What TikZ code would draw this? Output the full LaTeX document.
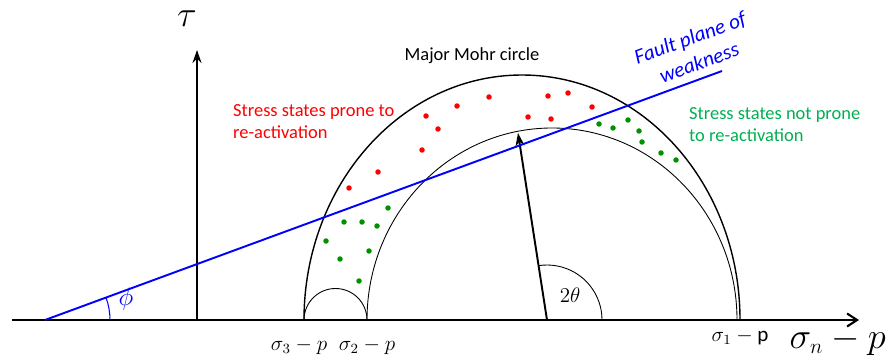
\documentclass[tikz,border=0pt]{standalone}
\usepackage{amsmath}
\usepackage{fontspec}
\setmainfont{Carlito}
\usepackage{tikz}
\usetikzlibrary{arrows.meta,positioning,calc}
\definecolor{faultblue}{RGB}{0,0,255}
\definecolor{pronered}{RGB}{255,0,0}
\definecolor{safegreen}{RGB}{0,176,80}
\definecolor{dotgreen}{RGB}{0,145,0}

\begin{document}
\begin{tikzpicture}[
  font=\fontsize{10.5}{12.5}\selectfont,
  axis/.style={line width=1.2pt},
  mohr/.style={line width=0.8pt},
  thinmohr/.style={line width=0.5pt},
  fault/.style={faultblue, line width=1.1pt},
  arrow/.style={-{Stealth[length=2.6mm,width=1.8mm]}, line width=1.1pt},
  note/.style={align=left, anchor=west}
]
\useasboundingbox (-3.94,-0.76) rectangle (13.94,6.4);

% axes
\coordinate (O) at (0,0);
\coordinate (xstart) at (-3.70,0);
\coordinate (xend) at (13.24,0);
\coordinate (ytop) at (0,5.4);
\draw[axis, -{Straight Barb[length=2mm,width=2.6mm]}] (xstart) -- (xend);
\draw[arrow, line width=1.2pt] (O) -- (ytop);
\node (tau) at (-0.2,6.02) {\huge$\tau$};
\node[anchor=base east, inner sep=0pt] (xlabel) at (13.78,-0.56) {\huge$\sigma_{\scriptscriptstyle n} - p$};

% principal stresses
\coordinate (s3) at (2.14,0);
\coordinate (s2) at (3.40,0);
\coordinate (s1) at (10.86,0);
\node[below=0.24cm of s3, xshift=-0.1cm] (s3lab) {\large$\sigma_3 - p$};
\node[below=0.24cm of s2] (s2lab) {\large$\sigma_2 - p$};
\node[below=0.06cm of s1] (s1lab) {\large$\sigma_1 - \mathrm{p}$};

% Mohr circles
\draw[mohr] (s1) arc[start angle=0, end angle=180, x radius=4.36, y radius=4.9];
\draw[thinmohr] (10.80,0) arc[start angle=0, end angle=180, x radius=3.70, y radius=3.84];
\draw[thinmohr] (s2) arc[start angle=0, end angle=180, radius=0.63];
\node (major) at (5.5,5.28) {Major Mohr circle};

% radius and 2theta
\coordinate (c2) at (7.0,0);
\coordinate (tip) at (6.42,3.74);
\draw[arrow] (c2) -- (tip);
\draw[thinmohr] ($(c2)+(1.1,0)$) arc[start angle=0, end angle=98.8, radius=1.1];
\node (twotheta) at (7.46,0.5) {\large$2\theta$};

% fault plane
\coordinate (f0) at (-3.04,0);
\coordinate (f1) at (10.5,4.98);
\draw[fault] (f0) -- (f1);
\draw[faultblue, line width=0.6pt] ($(f0)+(1.3,0)$) arc[start angle=0, end angle=20.1, radius=1.3];
\node[faultblue] (phi) at (-1.42,0.42) {\Large$\phi$};
\node[faultblue, rotate=20, align=center, font=\large\itshape] (faultlab) at (9.95,5.4) {Fault plane of\\[1pt]weakness};

% stress states
\node[note, pronered] (prone) at (0.6,3.96) {Stress states prone to\\re-activation};
\node[note, safegreen] (notprone) at (9.72,3.9) {Stress states not prone\\to re-activation};

\foreach \x/\y in {4.58/4.08, 4.82/3.82, 5.2/4.28, 5.84/4.46, 7.02/4.48, 7.42/4.54, 7.9/4.26,
  6.62/4.06, 7.08/4.02, 4.5/3.4, 3.62/2.96, 3.04/2.64}
  \fill[pronered] (\x,\y) circle (0.055);
\foreach \x/\y in {3.82/2.24, 2.94/1.96, 3.3/1.96, 3.6/1.88, 2.58/1.58, 3.44/1.38, 2.86/1.22,
  3.24/0.78, 8.04/3.92, 8.32/3.84, 8.62/4.0, 8.84/3.78, 8.9/3.56, 9.28/3.34, 9.58/3.2}
  \fill[dotgreen] (\x,\y) circle (0.055);
\end{tikzpicture}
\end{document}
